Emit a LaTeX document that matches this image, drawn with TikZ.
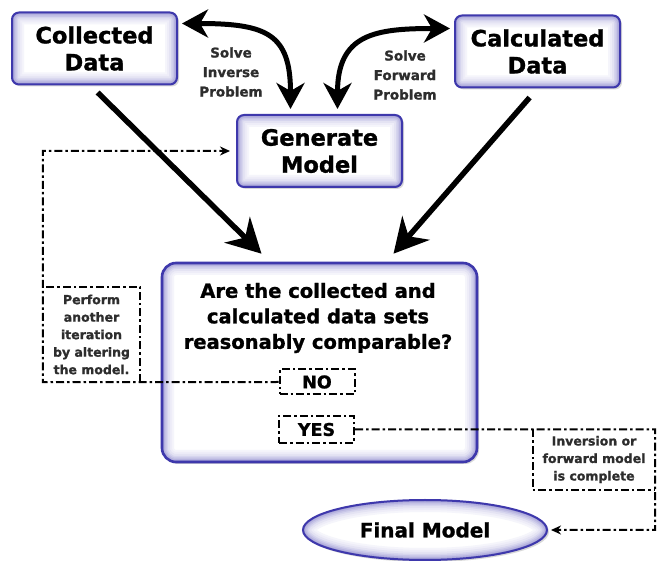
\documentclass[tikz,border=0pt]{standalone}
\usepackage{fontspec}
\setmainfont{DejaVu Sans}[BoldFeatures={FakeBold=1.2}]
\usepackage{xcolor}
\usetikzlibrary{positioning,shapes.geometric,arrows.meta,shadows}

\definecolor{boxblue}{RGB}{62,56,172}
\definecolor{labelgray}{RGB}{45,45,45}

\begin{document}
\begin{tikzpicture}[
    x=1pt, y=-1pt,
    glow/.style={path picture={
        \foreach \w/\c in {24/5, 20/9, 16/14, 12/21, 9/29, 6/38, 3/50} {
            \draw[boxblue!\c, line width=\w pt, rounded corners=#1]
                (path picture bounding box.south west) rectangle (path picture bounding box.north east);
        }}},
    box/.style={draw=boxblue, line width=2pt, rounded corners=7pt, fill=white, glow=7pt,
        minimum width=165pt, minimum height=72pt, align=center,
        font=\fontsize{22.5}{27}\selectfont\bfseries,
        drop shadow={shadow xshift=2pt, shadow yshift=-2pt, opacity=0.3}},
    bigbox/.style={box, rounded corners=14pt, glow=14pt, line width=2.6pt,
        minimum width=315pt, minimum height=199pt},
    finalbox/.style={ellipse, draw=boxblue, line width=2pt, fill=white,
        minimum width=244pt, minimum height=60pt, font=\fontsize{20}{24}\selectfont\bfseries,
        drop shadow={shadow xshift=2pt, shadow yshift=-2pt, opacity=0.3},
        path picture={
            \foreach \w/\c in {24/5, 20/9, 16/14, 12/21, 9/29, 6/38, 3/50} {
                \draw[boxblue!\c, line width=\w pt] (path picture bounding box.center) ellipse [x radius=122pt, y radius=30pt];
            }}},
    loopline/.style={line width=2pt, dash pattern=on 8pt off 3pt on 2.5pt off 3pt},
    tag/.style={loopline, draw, fill=white, minimum width=75pt, minimum height=25pt,
        font=\fontsize{17.5}{20}\selectfont\bfseries},
    note/.style={align=center, text=labelgray, font=\fontsize{12.5}{17.5}\selectfont\bfseries},
    solve/.style={align=center, text=labelgray, font=\fontsize{13.5}{19.5}\selectfont\bfseries},
    bigarrow/.style={line width=5.5pt, -{Stealth[length=34pt, width=36pt, inset=11pt]}},
    curvearrow/.style={line width=5pt,
        {Stealth[length=26pt, width=28pt, inset=8pt]}-{Stealth[length=26pt, width=28pt, inset=8pt]}},
    smallarrow/.style={-{Stealth[length=10pt, width=9pt]}}
]

\path[fill=white, use as bounding box] (0,0) rectangle (657,561);

% Top row
\node[box] (coll) at (94.5, 48.5) {Collected\\Data};
\node[box] (calc) at (537.5, 51.5) {Calculated\\Data};
\node[box] (gen) at (319.5, 151) {Generate\\Model};

\node[solve] (inv-lbl) at (231, 72) {Solve\\Inverse\\Problem};
\node[solve] (fwd-lbl) at (405, 75) {Solve\\Forward\\Problem};

% Comparison
\node[bigbox] (ques) at (319.5, 362.5) {};
\node[font=\fontsize{19.5}{25.5}\selectfont\bfseries, align=center] (qtext) at (318, 318)
    {Are the collected and\\calculated data sets\\reasonably comparable?};
\node[tag] (no) at (317, 382) {NO};
\node[tag, minimum height=27pt] (yes) at (316.5, 429.5) {YES};

% Side notes
\node[note, minimum width=97pt, minimum height=95pt] (perf) at (91.5, 334.5)
    {Perform\\another\\iteration\\by altering\\the model.};
\node[note, minimum width=122pt, minimum height=60pt] (inv) at (594, 459.5)
    {Inversion or\\forward model\\is complete};

\node[finalbox] (final) at (425, 530) {Final Model};

% Arrows
\draw[curvearrow] ([xshift=4pt, yshift=25pt]coll.east) .. controls +(85,0) and +(0,-75) .. ([xshift=-29pt, yshift=5pt]gen.north);
\draw[curvearrow] ([xshift=18pt, yshift=5pt]gen.north) .. controls +(0,-75) and +(-75,0) .. ([xshift=-4pt, yshift=23pt]calc.west);

\draw[bigarrow, shorten <=10pt] ([xshift=-4pt]coll.south) -- ([xshift=-58pt, yshift=8pt]ques.north);
\draw[bigarrow, shorten <=12pt] (calc.south) -- ([xshift=74pt, yshift=8pt]ques.north);

% Loops
\draw[loopline] (perf.south east) -- (perf.north east) -- (perf.north west);
\draw[loopline, smallarrow, shorten >=6pt] (no.west) -- (perf.south west) -- (perf.south west |- gen.west) -- (gen.west);

\draw[loopline] (inv.north west) -- (inv.south west) -- (inv.south east);
\draw[loopline, smallarrow, shorten >=3pt] (yes.east) -- (inv.north east) -- (inv.east |- final.east) -- (final.east);

\end{tikzpicture}
\end{document}
